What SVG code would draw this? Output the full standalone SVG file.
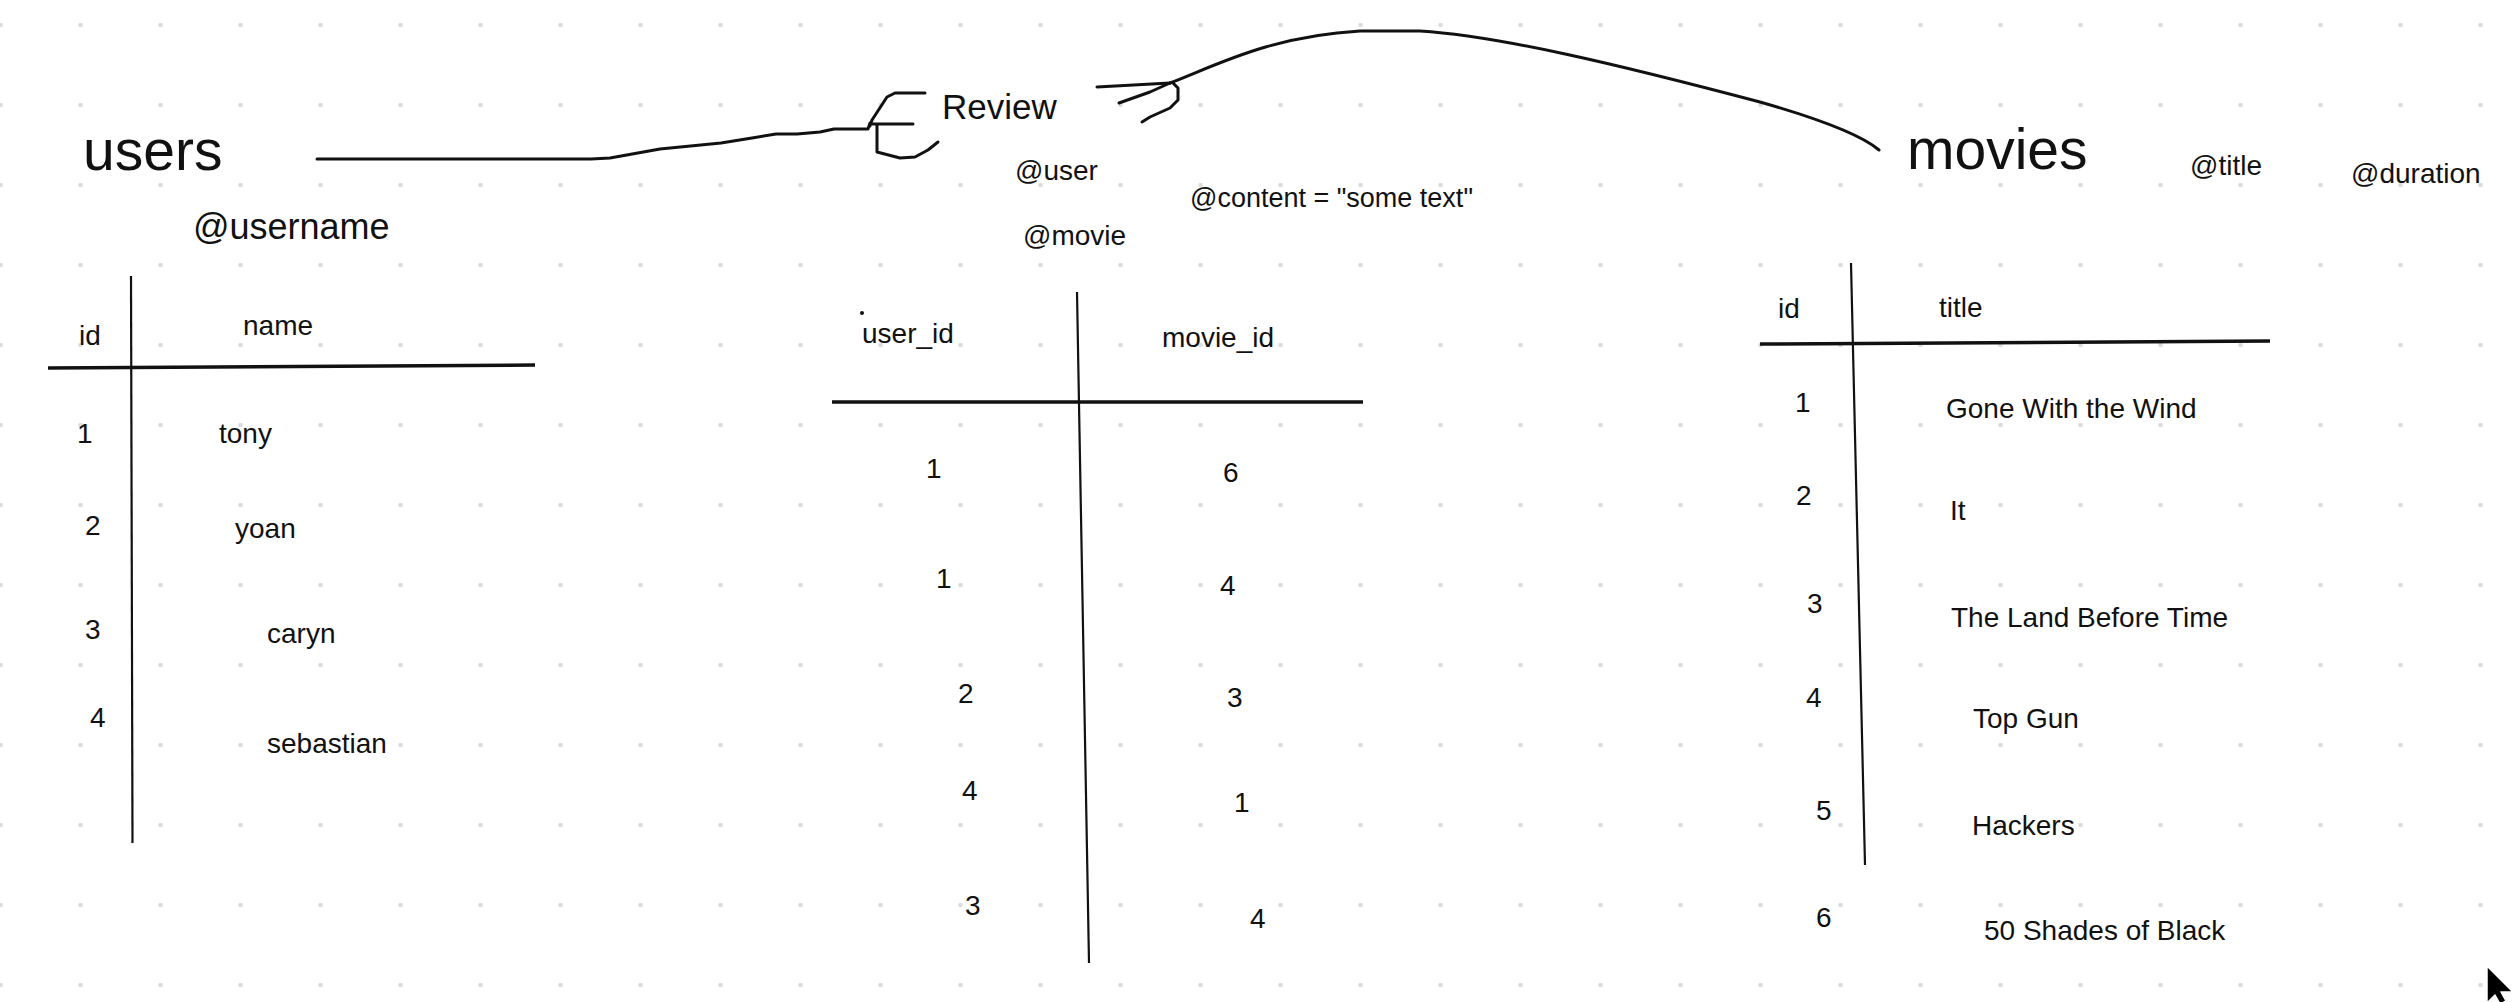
<svg xmlns="http://www.w3.org/2000/svg" width="2518" height="1002" viewBox="0 0 2518 1002">
<defs>
<pattern id="grid" patternUnits="userSpaceOnUse" x="-39.5" y="-15" width="80" height="80">
<circle cx="40" cy="40" r="2.3" fill="#dcdcdc"/>
</pattern>
<style>
text{font-family:"Liberation Sans",Arial,sans-serif;fill:#111;}
.t{font-size:28px;}
.big{font-size:57px;}
.ink{fill:none;stroke:#111;stroke-width:3;stroke-linecap:round;stroke-linejoin:round;}
.rule{fill:none;stroke:#111;stroke-width:3.5;stroke-linecap:butt;}
.col{fill:none;stroke:#111;stroke-width:2.2;}
</style>
</defs>
<rect width="2518" height="1002" fill="#fff"/>
<rect width="2518" height="1002" fill="url(#grid)"/>

<g id="connectors">
<path class="ink" d="M317,159 L591,159 L610,158 L660,149 L721,143 L752,138 L776,134 L797,134 L820,132 L834,129 L868,129 L870,123"/>
<path class="ink" d="M925,93 L895,93 L887,97 L872,120 L870,126"/>
<path class="ink" d="M873,124 L913,124"/>
<path class="ink" d="M877,125 L877,152 L900,158 L915,157 L928,150 L938,142"/>
<path class="ink" d="M1097,87 L1170,83"/>
<path class="ink" d="M1119,103 L1150,92 L1170,83"/>
<path class="ink" d="M1173,83 L1178,88 L1178,100 L1170,108 L1150,117 L1142,122"/>
<path class="ink" d="M1170,83 C1215,66 1270,36 1360,31 L1420,31 C1500,36 1620,65 1760,102 C1830,122 1865,138 1879,150"/>
</g>

<g id="users">
<text class="big" x="83" y="170">users</text>
<text x="193" y="239" style="font-size:36px">@username</text>
<path class="col" d="M131,276 L132.5,843"/>
<path class="rule" d="M48,368 L535,365"/>
<text class="t" x="79" y="345">id</text>
<text class="t" x="243" y="335">name</text>
<text class="t" x="77" y="443">1</text>
<text class="t" x="219" y="443">tony</text>
<text class="t" x="85" y="535">2</text>
<text class="t" x="235" y="538">yoan</text>
<text class="t" x="85" y="639">3</text>
<text class="t" x="267" y="643">caryn</text>
<text class="t" x="90" y="727">4</text>
<text class="t" x="267" y="753">sebastian</text>
</g>

<g id="review">
<text x="942" y="119" style="font-size:35px">Review</text>
<text class="t" x="1015" y="180">@user</text>
<text class="t" x="1023" y="245">@movie</text>
<text x="1190" y="207" style="font-size:27px">@content = "some text"</text>
<circle cx="862" cy="313" r="2" fill="#111"/>
<path class="col" d="M1077,292 L1089,963"/>
<path class="rule" d="M832,402 L1363,402"/>
<text class="t" x="862" y="343">user_id</text>
<text class="t" x="1162" y="347">movie_id</text>
<text class="t" x="926" y="478">1</text>
<text class="t" x="1223" y="482">6</text>
<text class="t" x="936" y="588">1</text>
<text class="t" x="1220" y="595">4</text>
<text class="t" x="958" y="703">2</text>
<text class="t" x="1227" y="707">3</text>
<text class="t" x="962" y="800">4</text>
<text class="t" x="1234" y="812">1</text>
<text class="t" x="965" y="915">3</text>
<text class="t" x="1250" y="928">4</text>
</g>

<g id="movies">
<text class="big" x="1907" y="169">movies</text>
<text class="t" x="2190" y="175">@title</text>
<text class="t" x="2351" y="183">@duration</text>
<path class="col" d="M1851,263 L1865,865"/>
<path class="rule" d="M1760,344 L2270,341"/>
<text class="t" x="1778" y="318">id</text>
<text class="t" x="1939" y="317">title</text>
<text class="t" x="1795" y="412">1</text>
<text class="t" x="1946" y="418">Gone With the Wind</text>
<text class="t" x="1796" y="505">2</text>
<text class="t" x="1950" y="520">It</text>
<text class="t" x="1807" y="613">3</text>
<text class="t" x="1951" y="627">The Land Before Time</text>
<text class="t" x="1806" y="707">4</text>
<text class="t" x="1973" y="728">Top Gun</text>
<text class="t" x="1816" y="820">5</text>
<text class="t" x="1972" y="835">Hackers</text>
<text class="t" x="1816" y="927">6</text>
<text class="t" x="1984" y="940">50 Shades of Black</text>
</g>

<polygon points="2487,966 2487,1003 2495,995 2500,1004 2506,1001 2501,992 2513,992" fill="#000" stroke="#fff" stroke-width="1.5" stroke-linejoin="round"/>
</svg>
